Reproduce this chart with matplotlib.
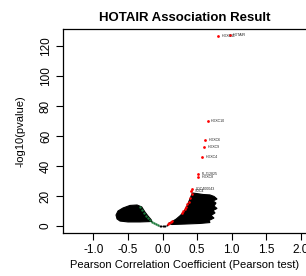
import matplotlib
matplotlib.use("Agg")
import matplotlib.pyplot as plt

plt.rcParams['font.family'] = ['Liberation Sans', 'DejaVu Sans']

# Labelled top genes (red points)
top_genes = ["HOXC11", "HOTAIR", "HOXC10", "HOXC6", "HOXC9", "HOXC4",
             "FLJ12825", "HOXC8", "LOC400043", "SDC4"]
top_r = [0.806, 0.971, 0.653, 0.614, 0.600, 0.571, 0.517, 0.514, 0.43, 0.41]
top_p = [126.9, 127.1, 70.0, 57.1, 52.5, 46.2, 34.7, 32.7, 24.9, 23.1]

# Positive significant genes along the curve (red)
pos_r = [0.08, 0.10, 0.12, 0.14, 0.28, 0.30, 0.32, 0.34, 0.36, 0.38, 0.40, 0.42]
pos_p = [1.3, 2.0, 2.8, 3.6, 8.5, 9.8, 11.2, 12.8, 14.5, 16.3, 18.5, 21.0]

# Negative significant genes along the curve (green)
neg_r = [-0.33, -0.30, -0.27, -0.24, -0.21, -0.18, -0.15, -0.12, -0.09, -0.06]
neg_p = [12.5, 10.5, 8.6, 6.9, 5.3, 4.0, 2.8, 1.8, 1.0, 0.5]

# Non-significant genes near zero (black)
ns_r = [-0.04, -0.02, 0.0, 0.02, 0.04, 0.06]
ns_p = [0.3, 0.1, 0.0, 0.1, 0.3, 0.6]

# Envelope of the overplotted gene labels (dense black mass)
blobR_r = [0.085, 0.142, 0.200, 0.258, 0.316, 0.359, 0.402, 0.431, 0.484, 0.585,
           0.686, 0.744, 0.788, 0.730, 0.773, 0.744, 0.788, 0.730, 0.759, 0.701,
           0.744, 0.672, 0.686, 0.542, 0.325, 0.137]
blobR_p = [1.7, 3.0, 4.7, 7.0, 10.0, 14.0, 18.7, 22.0, 21.7, 21.0,
           20.7, 19.7, 18.0, 16.7, 15.3, 13.3, 11.7, 10.3, 8.7, 7.0,
           5.3, 3.7, 2.3, 1.7, 1.3, 1.0]
blobL_r = [-0.30, -0.253, -0.21, -0.166, -0.152, -0.325, -0.499, -0.614, -0.657,
           -0.672, -0.643, -0.571, -0.47, -0.368]
blobL_p = [12.7, 9.3, 6.7, 4.3, 3.0, 2.7, 2.7, 3.3, 4.7, 7.3, 10.0, 12.0, 13.7, 14.0]

xticks = [-1.0, -0.5, 0.0, 0.5, 1.0, 1.5, 2.0]
yticks = [0, 20, 40, 60, 80, 100, 120]

fig = plt.figure(figsize=(3.06, 2.76), dpi=100)
ax = fig.add_axes([63/306, 43/276, (307-63)/306, (233-29)/276])

ax.fill(blobR_r, blobR_p, color='black', lw=0.8, zorder=2)
ax.fill(blobL_r, blobL_p, color='black', lw=0.8, zorder=2)
ax.scatter(ns_r, ns_p, s=2, c='black', lw=0, zorder=3)
ax.scatter(neg_r, neg_p, s=3, c='#1a7a3a', lw=0, zorder=3)
ax.scatter(pos_r, pos_p, s=3.5, c='red', lw=0, zorder=3)
ax.scatter(top_r, top_p, s=4, c='red', lw=0, zorder=3)
for g, r, p in zip(top_genes, top_r, top_p):
    ax.annotate(g, (r, p), xytext=(2.5, 0), textcoords='offset points',
                fontsize=2.6, color='#222222', va='center', ha='left', zorder=4)

ax.set_xlim(-1.438, 2.088)
ax.set_ylim(-4.67, 131.3)
ax.set_xticks(xticks)
ax.set_xticklabels([f"{t:.1f}" for t in xticks])
ax.set_yticks(yticks)
ax.set_yticklabels([str(t) for t in yticks], rotation=90, va='center')
ax.tick_params(axis='both', labelsize=8.5, length=5, width=0.8, direction='out', pad=3)
ax.spines['right'].set_visible(False)
for s in ['left', 'top', 'bottom']:
    ax.spines[s].set_linewidth(0.9)

ax.set_title("HOTAIR Association Result", fontsize=9.5, fontweight='bold', pad=6)
ax.set_xlabel("Pearson Correlation Coefficient (Pearson test)", fontsize=8, labelpad=3)
ax.set_ylabel("-log10(pvalue)", fontsize=8, labelpad=10)

fig.savefig("out.png", dpi=100)
